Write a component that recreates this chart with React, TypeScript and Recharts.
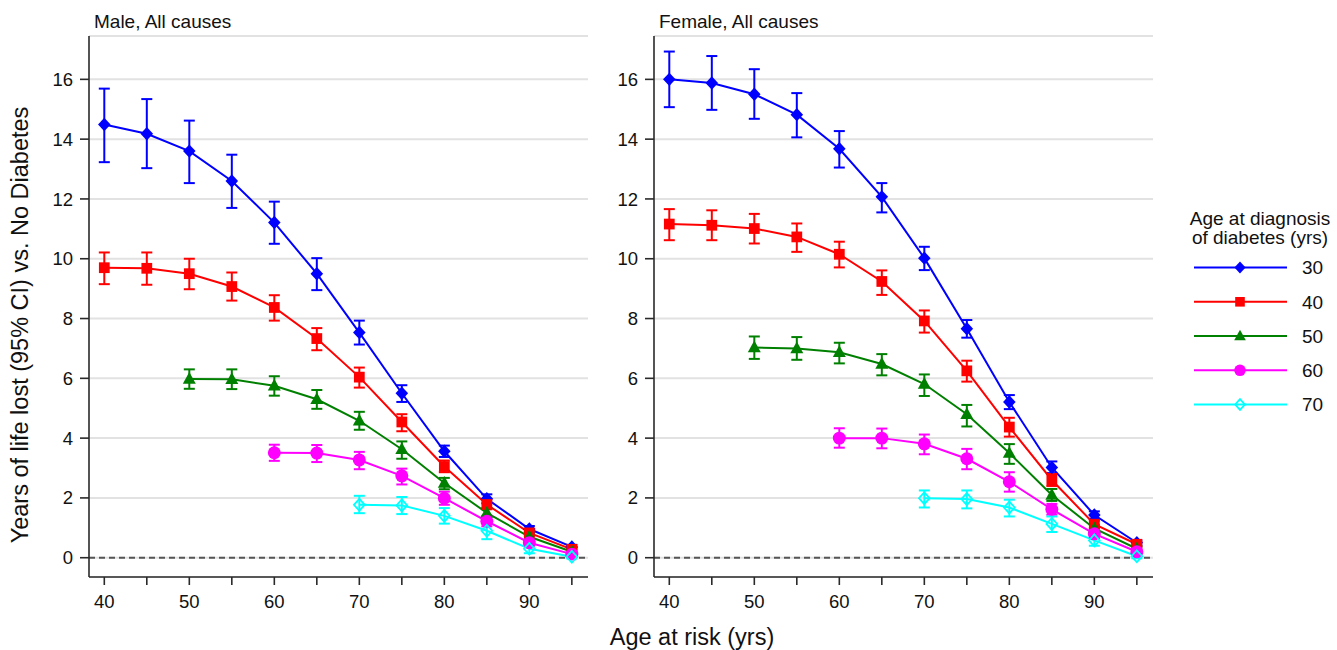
import React from 'react';
import { LineChart, Line, XAxis, YAxis, CartesianGrid, ErrorBar, ReferenceLine } from 'recharts';

// ---------- data ----------
const ages = [40, 45, 50, 55, 60, 65, 70, 75, 80, 85, 90, 95];
const gridAges = [40, 50, 60, 70, 80, 90];
const yTicks = [0, 2, 4, 6, 8, 10, 12, 14, 16];

const seriesNames = ['30', '40', '50', '60', '70'];
const seriesColors = ['#0000ff', '#ff0000', '#008000', '#ff00ff', '#00ffff'];
const seriesShapes = ['diamond', 'square', 'triangle', 'circle', 'hollowDiamond'];

const panelTitles = ['Male, All causes', 'Female, All causes'];
const legendTitle = ['Age at diagnosis', 'of diabetes (yrs)'];
const xLabel = 'Age at risk (yrs)';
const yLabel = 'Years of life lost (95% CI) vs. No Diabetes';

// Male
const male30 = [14.49, 14.18, 13.6, 12.6, 11.21, 9.5, 7.53, 5.5, 3.56, 1.97, 0.96, 0.36];
const male30Lo = [13.23, 13.03, 12.53, 11.7, 10.5, 8.95, 7.13, 5.21, 3.37, 1.82, 0.86, 0.29];
const male30Hi = [15.69, 15.34, 14.62, 13.48, 11.91, 10.02, 7.93, 5.77, 3.75, 2.12, 1.06, 0.43];

const male40 = [9.7, 9.68, 9.5, 9.07, 8.37, 7.33, 6.04, 4.54, 3.05, 1.78, 0.83, 0.28];
const male40Lo = [9.15, 9.13, 8.98, 8.6, 7.93, 6.94, 5.69, 4.23, 2.86, 1.62, 0.73, 0.22];
const male40Hi = [10.21, 10.21, 10.0, 9.54, 8.78, 7.68, 6.36, 4.8, 3.25, 1.95, 0.93, 0.34];

const male50 = [5.98, 5.97, 5.75, 5.3, 4.58, 3.63, 2.5, 1.5, 0.7, 0.2];
const male50Lo = [5.65, 5.64, 5.42, 4.98, 4.28, 3.31, 2.29, 1.35, 0.61, 0.14];
const male50Hi = [6.3, 6.3, 6.07, 5.61, 4.88, 3.89, 2.67, 1.66, 0.8, 0.26];

const male60 = [3.51, 3.5, 3.27, 2.74, 1.99, 1.22, 0.5, 0.12];
const male60Lo = [3.24, 3.2, 2.96, 2.45, 1.77, 1.05, 0.4, 0.06];
const male60Hi = [3.78, 3.77, 3.54, 2.98, 2.21, 1.4, 0.6, 0.18];

const male70 = [1.77, 1.75, 1.4, 0.9, 0.3, 0.03];
const male70Lo = [1.49, 1.46, 1.14, 0.62, 0.15, -0.03];
const male70Hi = [2.07, 2.03, 1.66, 1.15, 0.45, 0.1];

// Female
const female30 = [16.0, 15.88, 15.5, 14.82, 13.68, 12.07, 10.02, 7.66, 5.21, 3.02, 1.43, 0.5];
const female30Lo = [15.07, 14.98, 14.68, 14.06, 13.05, 11.55, 9.62, 7.36, 4.97, 2.83, 1.3, 0.42];
const female30Hi = [16.93, 16.78, 16.34, 15.54, 14.27, 12.53, 10.4, 7.95, 5.44, 3.22, 1.55, 0.58];

const female40 = [11.16, 11.12, 11.01, 10.73, 10.15, 9.24, 7.92, 6.25, 4.37, 2.6, 1.12, 0.45];
const female40Lo = [10.62, 10.62, 10.51, 10.23, 9.71, 8.79, 7.53, 5.89, 4.05, 2.4, 1.0, 0.38];
const female40Hi = [11.66, 11.62, 11.5, 11.18, 10.57, 9.61, 8.27, 6.59, 4.68, 2.8, 1.24, 0.52];

const female50 = [7.03, 7.0, 6.87, 6.48, 5.81, 4.8, 3.5, 2.1, 0.98, 0.3];
const female50Lo = [6.65, 6.62, 6.5, 6.1, 5.41, 4.39, 3.14, 1.9, 0.86, 0.24];
const female50Hi = [7.4, 7.38, 7.19, 6.81, 6.13, 5.11, 3.8, 2.3, 1.1, 0.37];

const female60 = [4.0, 4.0, 3.81, 3.31, 2.54, 1.62, 0.8, 0.2];
const female60Lo = [3.68, 3.66, 3.46, 2.96, 2.21, 1.44, 0.66, 0.12];
const female60Hi = [4.33, 4.32, 4.12, 3.64, 2.86, 1.8, 0.95, 0.28];

const female70 = [1.99, 1.96, 1.68, 1.13, 0.58, 0.05];
const female70Lo = [1.68, 1.65, 1.38, 0.86, 0.4, -0.02];
const female70Hi = [2.25, 2.25, 1.94, 1.38, 0.75, 0.13];

// ---------- helpers ----------
type Pt = { age: number; v: number; err: [number, number] };

function build(values: number[], lo: number[], hi: number[]): Pt[] {
  const start = ages.length - values.length;
  return values.map((v, i) => ({ age: ages[start + i], v, err: [v - lo[i], hi[i] - v] as [number, number] }));
}

const maleSeries = [
  build(male30, male30Lo, male30Hi),
  build(male40, male40Lo, male40Hi),
  build(male50, male50Lo, male50Hi),
  build(male60, male60Lo, male60Hi),
  build(male70, male70Lo, male70Hi),
];
const femaleSeries = [
  build(female30, female30Lo, female30Hi),
  build(female40, female40Lo, female40Hi),
  build(female50, female50Lo, female50Hi),
  build(female60, female60Lo, female60Hi),
  build(female70, female70Lo, female70Hi),
];

const FONT = 'Arial, "Liberation Sans", Helvetica, sans-serif';

function Marker({ shape, cx, cy, color, s = 1.12 }: { shape: string; cx: number; cy: number; color: string; s?: number }) {
  switch (shape) {
    case 'diamond':
      return <polygon points={`${cx},${cy - 6 * s} ${cx + 5.6 * s},${cy} ${cx},${cy + 6 * s} ${cx - 5.6 * s},${cy}`} fill={color} />;
    case 'square':
      return <rect x={cx - 4.8 * s} y={cy - 4.8 * s} width={9.6 * s} height={9.6 * s} fill={color} />;
    case 'triangle':
      return <polygon points={`${cx},${cy - 6.2 * s} ${cx + 5.8 * s},${cy + 4.2 * s} ${cx - 5.8 * s},${cy + 4.2 * s}`} fill={color} />;
    case 'circle':
      return <circle cx={cx} cy={cy} r={5.8 * s} fill={color} />;
    default:
      return (
        <polygon
          points={`${cx},${cy - 5.3 * s} ${cx + 4.8 * s},${cy} ${cx},${cy + 5.3 * s} ${cx - 4.8 * s},${cy}`}
          fill="none"
          stroke={color}
          strokeWidth={1.8}
        />
      );
  }
}

function Panel({ left, series, id }: { left: number; series: Pt[][]; id: string }) {
  return (
    <div style={{ position: 'absolute', left, top: 0, width: 600, height: 650 }}>
      <LineChart width={600} height={650} margin={{ top: 36, right: 12, bottom: 33, left: 29 }}>
        <CartesianGrid
          stroke="#e2e2e2"
          strokeWidth={2}
          verticalCoordinatesGenerator={(props: any) => {
            const sc = props?.xAxis?.scale;
            return typeof sc === 'function' ? gridAges.map((a) => sc(a)) : [];
          }}
        />
        <XAxis
          dataKey="age"
          type="number"
          domain={[38.2, 96.9]}
          ticks={ages}
          interval={0}
          allowDataOverflow
          tickFormatter={(v: number) => (v % 10 === 0 ? String(v) : '')}
          height={40}
          tickSize={8}
          tickMargin={10}
          stroke="#2a2a2a"
          strokeWidth={1.6}
          tick={{ fill: '#111', fontSize: 18.5, fontFamily: FONT }}
        />
        <YAxis
          type="number"
          domain={[-0.645, 17.45]}
          ticks={yTicks}
          interval={0}
          allowDataOverflow
          width={60}
          tickSize={9}
          tickMargin={7}
          stroke="#2a2a2a"
          strokeWidth={1.6}
          tick={{ fill: '#111', fontSize: 18.5, fontFamily: FONT }}
        />
        <ReferenceLine y={0} stroke="#555" strokeDasharray="6 4" strokeWidth={2} />
        {series.map((data, si) => (
          <Line
            key={`${id}-${si}`}
            data={data}
            dataKey="v"
            name={seriesNames[si]}
            type="linear"
            stroke={seriesColors[si]}
            strokeWidth={2}
            isAnimationActive={false}
            activeDot={false}
            dot={(p: any) =>
              p.cx == null || p.cy == null ? (
                <g key={`${id}-${si}-d${p.index}`} />
              ) : (
                <g key={`${id}-${si}-d${p.index}`}>
                  <Marker shape={seriesShapes[si]} cx={p.cx} cy={p.cy} color={seriesColors[si]} />
                </g>
              )
            }
          >
            <ErrorBar dataKey="err" direction="y" width={5.5} stroke={seriesColors[si]} strokeWidth={2} isAnimationActive={false} />
          </Line>
        ))}
      </LineChart>
    </div>
  );
}

export default function App() {
  const legendRowsY = [267.5, 301.8, 336, 370.3, 404.5];
  return (
    <div style={{ position: 'absolute', left: 0, top: 0, width: 1337, height: 650, background: '#fff', overflow: 'hidden' }}>
      <Panel left={0} series={maleSeries} id="m" />
      <Panel left={565} series={femaleSeries} id="f" />
      <svg width={1337} height={650} style={{ position: 'absolute', left: 0, top: 0, pointerEvents: 'none' }} fontFamily={FONT}>
        <text x={94} y={28} fontSize={19} fill="#111">{panelTitles[0]}</text>
        <text x={659} y={28} fontSize={19} fill="#111">{panelTitles[1]}</text>
        <text x={692} y={645} fontSize={23.5} fill="#111" textAnchor="middle">{xLabel}</text>
        <text x={0} y={0} fontSize={23.5} fill="#111" textAnchor="middle" transform="translate(28,325) rotate(-90)">{yLabel}</text>
        <text x={1260} y={224.5} fontSize={19} fill="#111" textAnchor="middle">{legendTitle[0]}</text>
        <text x={1260} y={243.5} fontSize={19} fill="#111" textAnchor="middle">{legendTitle[1]}</text>
        {seriesNames.map((n, i) => (
          <g key={`lg-${n}`}>
            <line x1={1194} x2={1287} y1={legendRowsY[i]} y2={legendRowsY[i]} stroke={seriesColors[i]} strokeWidth={2} />
            <Marker shape={seriesShapes[i]} cx={1240} cy={legendRowsY[i]} color={seriesColors[i]} s={1} />
            <text x={1302} y={legendRowsY[i] + 6.8} fontSize={19} fill="#111">{n}</text>
          </g>
        ))}
      </svg>
    </div>
  );
}
